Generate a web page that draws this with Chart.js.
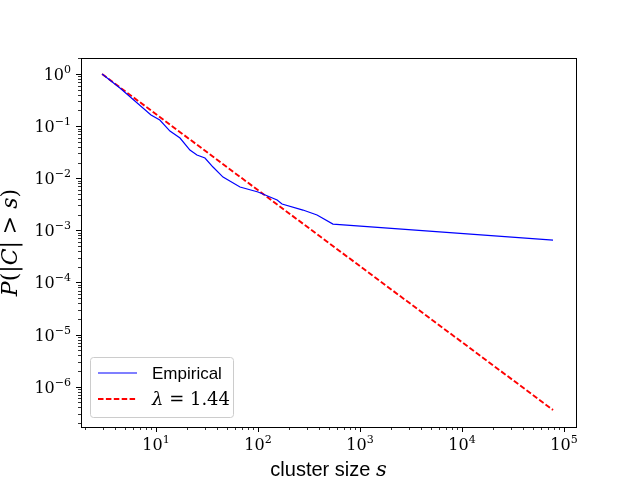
<!DOCTYPE html>
<html>
<head>
<meta charset="utf-8">
<script src="https://cdn.jsdelivr.net/npm/chart.js@4.4.0/dist/chart.umd.min.js"></script>
<style>
  body { margin: 0; background: #fff; }
  #wrap { width: 640px; height: 480px; }
</style>
</head>
<body>
<div id="wrap"><canvas id="chart" width="640" height="480"></canvas></div>
<script>
// empirical CCDF
const clusterSizes = [2.96, 4.43, 8.93, 10.9, 13.7, 17.2, 21.5, 25.2, 30.2, 36.2, 45.4, 66.6, 100, 154, 172, 276, 379, 543, 78000];
const empiricalP = [1, 0.539, 0.163, 0.131, 0.0805, 0.0591, 0.0348, 0.0279, 0.0244, 0.0164, 0.0105, 0.00678, 0.00543, 0.00382, 0.0032, 0.00245, 0.00197, 0.00132, 0.000651];
// power law fit, lambda = 1.44
const fitSizes = [2.96, 78000];
const fitP = [1, 3.56e-7];

const xTickExps = [1, 2, 3, 4, 5];
const yTickExps = [0, -1, -2, -3, -4, -5, -6];

const serif = '"DejaVu Serif", "Liberation Serif", serif';
const sans = '"Liberation Sans", Arial, sans-serif';

function toPoints(xs, ys) {
  return xs.map((x, i) => ({ x: x, y: ys[i] }));
}

// draw a run of text pieces with different fonts
function drawRuns(ctx, runs, x, y, align) {
  let total = 0;
  runs.forEach(r => { ctx.font = r.font; total += ctx.measureText(r.text).width; });
  let cx = align === 'center' ? x - total / 2 : (align === 'right' ? x - total : x);
  runs.forEach(r => {
    ctx.font = r.font;
    ctx.textAlign = 'left';
    ctx.fillText(r.text, cx, y + (r.dy || 0));
    cx += ctx.measureText(r.text).width;
  });
}

function powerRuns(exp) {
  const e = exp < 0 ? '\u2212' + (-exp) : String(exp);
  return [
    { text: '10', font: '16px ' + serif },
    { text: e, font: '11px ' + serif, dy: -7 }
  ];
}

const decorations = {
  id: 'decorations',
  afterDraw(chart) {
    const ctx = chart.ctx;
    const xs = chart.scales.x, ys = chart.scales.y;
    const a = chart.chartArea;
    ctx.save();
    ctx.strokeStyle = '#000';
    ctx.fillStyle = '#000';

    // frame
    ctx.lineWidth = 1;
    ctx.strokeRect(a.left + 0.5, a.top + 0.5, a.right - a.left, a.bottom - a.top);

    // x ticks
    for (let e = 0; e <= 5; e++) {
      for (let m = 1; m <= 9; m++) {
        const v = m * Math.pow(10, e);
        if (v < xs.min || v > xs.max) continue;
        const px = Math.round(xs.getPixelForValue(v)) + 0.5;
        ctx.lineWidth = m === 1 ? 1 : 0.8;
        ctx.beginPath();
        ctx.moveTo(px, a.bottom);
        ctx.lineTo(px, a.bottom + (m === 1 ? 5 : 3));
        ctx.stroke();
      }
    }
    // y ticks
    for (let e = -7; e <= 0; e++) {
      for (let m = 1; m <= 9; m++) {
        const v = m * Math.pow(10, e);
        if (v < ys.min || v > ys.max) continue;
        const py = Math.round(ys.getPixelForValue(v)) + 0.5;
        ctx.lineWidth = m === 1 ? 1 : 0.8;
        ctx.beginPath();
        ctx.moveTo(a.left, py);
        ctx.lineTo(a.left - (m === 1 ? 5 : 3), py);
        ctx.stroke();
      }
    }

    // tick labels
    ctx.textBaseline = 'alphabetic';
    xTickExps.forEach(e => {
      const px = xs.getPixelForValue(Math.pow(10, e));
      drawRuns(ctx, powerRuns(e), px, a.bottom + 23, 'center');
    });
    yTickExps.forEach(e => {
      const py = ys.getPixelForValue(Math.pow(10, e));
      drawRuns(ctx, powerRuns(e), a.left - 10, py + 6, 'right');
    });

    // axis titles
    drawRuns(ctx, [
      { text: 'cluster size ', font: '20px ' + sans },
      { text: 's', font: 'italic 21px ' + serif }
    ], (a.left + a.right) / 2, 476, 'center');

    ctx.save();
    ctx.translate(17, (a.top + a.bottom) / 2);
    ctx.rotate(-Math.PI / 2);
    drawRuns(ctx, [
      { text: 'P', font: 'italic 22px ' + serif },
      { text: '(|', font: '22px ' + serif },
      { text: 'C', font: 'italic 22px ' + serif },
      { text: '| > ', font: '22px ' + serif },
      { text: 's', font: 'italic 22px ' + serif },
      { text: ')', font: '22px ' + serif }
    ], 0, 0, 'center');
    ctx.restore();

    // legend
    const lx = 90, ly = 357, lw = 143, lh = 60;
    ctx.beginPath();
    ctx.roundRect(lx + 0.5, ly + 0.5, lw, lh, 3);
    ctx.fillStyle = 'rgba(255,255,255,0.8)';
    ctx.fill();
    ctx.strokeStyle = '#cccccc';
    ctx.lineWidth = 1;
    ctx.stroke();

    const ds = chart.data.datasets;
    const rows = [373, 399];
    ds.forEach((d, i) => {
      ctx.strokeStyle = d.borderColor;
      ctx.lineWidth = d.borderWidth;
      ctx.setLineDash(d.borderDash || []);
      ctx.beginPath();
      ctx.moveTo(98, rows[i]);
      ctx.lineTo(137, rows[i]);
      ctx.stroke();
      ctx.setLineDash([]);
    });
    ctx.fillStyle = '#000';
    drawRuns(ctx, [{ text: 'Empirical', font: '17px ' + sans }], 152, rows[0] + 6, 'left');
    drawRuns(ctx, [
      { text: '\u03bb', font: 'italic 18px ' + serif },
      { text: ' = 1.44', font: '18px ' + serif }
    ], 152, rows[1] + 6, 'left');

    ctx.restore();
  }
};

const ctx = document.getElementById('chart').getContext('2d');
new Chart(ctx, {
  type: 'line',
  data: {
    datasets: [{
      label: 'Empirical',
      data: toPoints(clusterSizes, empiricalP),
      borderColor: '#0000ff',
      borderWidth: 1.2,
      pointRadius: 0,
      fill: false,
      tension: 0
    }, {
      label: '\u03bb = 1.44',
      data: toPoints(fitSizes, fitP),
      borderColor: '#ff0000',
      borderWidth: 1.9,
      borderDash: [5.5, 2.4],
      pointRadius: 0,
      fill: false,
      tension: 0
    }]
  },
  options: {
    responsive: false,
    animation: false,
    layout: { padding: { left: 81, top: 58, right: 64, bottom: 53 } },
    plugins: {
      legend: { display: false },
      tooltip: { enabled: false }
    },
    scales: {
      x: { type: 'logarithmic', min: 1.84, max: 1.31e5, display: false },
      y: { type: 'logarithmic', min: 1.68e-7, max: 2.03, display: false }
    }
  },
  plugins: [decorations]
});
</script>
</body>
</html>
